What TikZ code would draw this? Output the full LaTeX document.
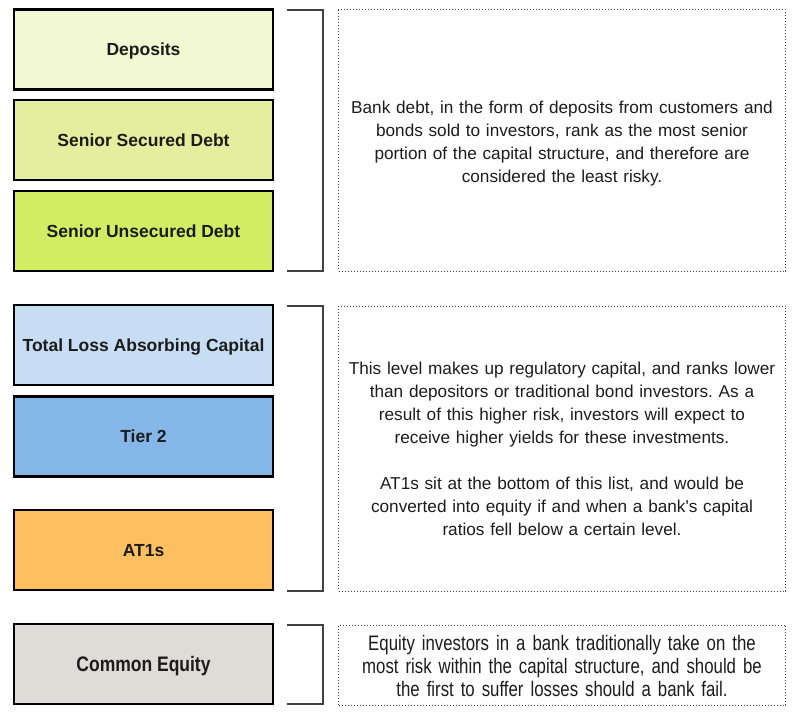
\documentclass[tikz,border=0pt]{standalone}
\usepackage{fontspec}
\setmainfont{Liberation Sans}
\newfontfamily\notefont[Ligatures=TeXOff]{Liberation Sans}
\newfontfamily\tallfont[FakeStretch=0.833]{Liberation Sans}
\newfontfamily\tallnotefont[FakeStretch=0.80]{Liberation Sans}
\frenchspacing
\definecolor{cdep}{HTML}{F2F8D2}
\definecolor{csec}{HTML}{E3EF9E}
\definecolor{cuns}{HTML}{D4EC64}
\definecolor{ctlac}{HTML}{C6DDF3}
\definecolor{ctier}{HTML}{84B6E8}
\definecolor{cat}{HTML}{FDBF60}
\definecolor{ceq}{HTML}{DFDBD6}
\definecolor{cbr}{HTML}{404040}
\definecolor{ctxt}{HTML}{1C1C1C}
\tikzset{
  tier/.style={draw=black, line width=2.5bp, minimum width=259bp, minimum height=80bp,
    inner sep=0pt, text=ctxt, text height=12.6bp, text depth=0pt,
    font=\fontsize{17.5bp}{21bp}\selectfont\bfseries},
  notebox/.style={draw=cbr, line width=1bp, dash pattern=on 1bp off 2bp, inner sep=0pt,
    minimum width=447bp},
  notetext/.style={inner sep=0pt, align=center, text=ctxt, text width=440bp,
    font=\fontsize{17.2bp}{23bp}\notefont},
  bracket/.style={draw=cbr, line width=2bp}
}
\begin{document}
\begin{tikzpicture}[x=1bp,y=-1bp]
\useasboundingbox (0,0) rectangle (801,715);
% tiers
\node[tier, fill=cdep] (dep) at (143.5,49.5) {Deposits};
\node[tier, fill=csec] (sec) at (143.5,140) {Senior Secured Debt};
\node[tier, fill=cuns] (uns) at (143.5,231) {Senior Unsecured Debt};
\node[tier, fill=ctlac] (tlac) at (143.5,345) {Total Loss Absorbing Capital};
\node[tier, fill=ctier] (t2) at (143.5,436.5) {Tier 2};
\node[tier, fill=cat] (at1) at (143.5,550) {AT1s};
\node[tier, fill=ceq, text height=15bp, font=\fontsize{21bp}{24bp}\tallfont\bfseries] (eq) at (143.5,664) {Common Equity};
% note boxes
\node[notebox, minimum height=261bp] (n1) at (562,140.5) {};
\node[notebox, minimum height=285bp] (n2) at (562,448.5) {};
\node[notebox, minimum height=80bp] (n3) at (562,665) {};
% note texts
\node[notetext] (t1) at ([yshift=-3bp]n1.center)
  {Bank debt, in the form of deposits from customers and\\
   bonds sold to investors, rank as the most senior\\
   portion of the capital structure, and therefore are\\
   considered the least risky.};
\node[notetext] (t2) at (n2.center)
  {This level makes up regulatory capital, and ranks lower\\
   than depositors or traditional bond investors. As a\\
   result of this higher risk, investors will expect to\\
   receive higher yields for these investments.\\[23bp]
   AT1s sit at the bottom of this list, and would be\\
   converted into equity if and when a bank's capital\\
   ratios fell below a certain level.};
\node[notetext, font=\fontsize{21bp}{23bp}\tallnotefont] (t3) at ([yshift=-1bp]n3.center)
  {Equity investors in a bank traditionally take on the\\
   most risk within the capital structure, and should be\\
   the first to suffer losses should a bank fail.};
% brackets
\coordinate (b1t) at (287,10);
\coordinate (b1b) at (287,271);
\coordinate (b2t) at (287,306);
\coordinate (b2b) at (287,591);
\coordinate (b3t) at (287,625);
\coordinate (b3b) at (287,704);
\draw[bracket] (b1t) -- ++(36,0) |- (b1b);
\draw[bracket] (b2t) -- ++(36,0) |- (b2b);
\draw[bracket] (b3t) -- ++(36,0) |- (b3b);
\end{tikzpicture}
\end{document}
